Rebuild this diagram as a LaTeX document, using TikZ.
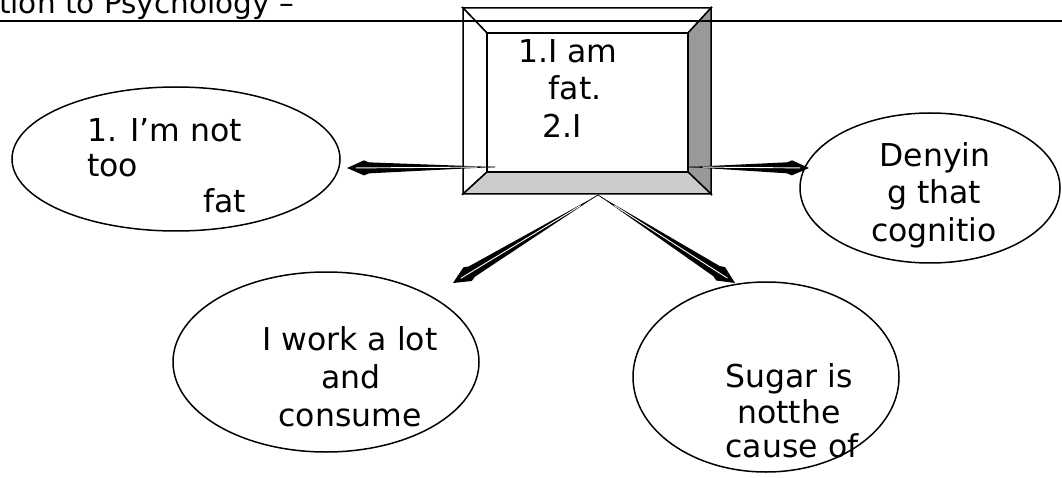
\documentclass[tikz,border=0pt]{standalone}
\usepackage{fontspec}
\setmainfont{DejaVu Sans}
\usetikzlibrary{calc,shapes.geometric}
\tikzset{
  txt/.style={inner sep=0pt, font=\fontsize{31.5}{37.5}\selectfont},
  hdrtxt/.style={inner sep=0pt, font=\fontsize{29.5}{35}\selectfont},
  ell/.style={draw, ellipse, line width=1.5pt, inner sep=0pt},
  bev/.style={draw, line width=1.5pt, line join=miter},
}
% spear-shaped connector: #1 tail, #2 tip, #3 head half-width, #4 neck half-width
\newcommand\spearline[4]{%
  \fill[black] (#1) -- ($($(#2)!22pt!(#1)$)!#4!90:(#2)$) -- ($($(#2)!17pt!(#1)$)!#3!90:(#2)$)
    -- (#2) -- ($($(#2)!17pt!(#1)$)!#3!-90:(#2)$) -- ($($(#2)!22pt!(#1)$)!#4!-90:(#2)$) -- cycle;
  \draw[black, line width=0.6pt] (#1) -- ($(#1)!8pt!(#2)$);
  \draw[white, line width=0.9pt] ($(#1)!0.12!(#2)$) -- ($(#2)!9pt!(#1)$);
}
\begin{document}
\begin{tikzpicture}[x=1pt,y=-1pt]
\useasboundingbox[fill=white] (0,0) rectangle (1062,478);
% header
\node[hdrtxt, anchor=base west] (hdr) at (-1,14) {tion to Psychology –};
% bevelled box
\fill[white] (463,8) rectangle (711,194);
\filldraw[bev, fill=white] (463,8) -- (711,8) -- (688,33) -- (487,33) -- cycle;
\filldraw[bev, fill=white] (463,8) -- (487,33) -- (487,172) -- (463,194) -- cycle;
\filldraw[bev, fill=black!40] (711,8) -- (711,194) -- (688,172) -- (688,33) -- cycle;
\filldraw[bev, fill=black!20] (463,194) -- (711,194) -- (688,172) -- (487,172) -- cycle;
\node[draw, line width=1.5pt, fill=white, minimum width=201pt, minimum height=139pt, inner sep=0pt] (box) at (587.5,102.5) {};
\draw[line width=1.6pt] (0,21) -- (1062,21);
\node[txt, anchor=base] (b1) at (568,63) {1.I am};
\node[txt, anchor=base] (b2) at (575,100) {fat.};
\node[txt, anchor=base] (b3) at (562,138) {2.I};
% ellipses
\node[ell, minimum width=328pt, minimum height=144pt] (L) at (176,159) {};
\node[ell, minimum width=260pt, minimum height=150pt] (R) at (930,188) {};
\node[ell, minimum width=306pt, minimum height=180pt] (BL) at (326,362) {};
\node[ell, minimum width=266pt, minimum height=190pt] (BR) at (766,377) {};
% texts
\node[txt, anchor=base west] (l1) at (87,142) {1. I’m not};
\node[txt, anchor=base west] (l2) at (87,177) {too};
\node[txt, anchor=base west] (l3) at (203,213) {fat};
\node[txt, anchor=base] (r1) at (935,167) {Denyin};
\node[txt, anchor=base] (r2) at (934,204) {g that};
\node[txt, anchor=base] (r3) at (934,242) {cognitio};
\node[txt, anchor=base] (bl1) at (350,350) {I work a lot};
\node[txt, anchor=base] (bl2) at (351,388) {and};
\node[txt, anchor=base] (bl3) at (350,426) {consume};
\node[txt, anchor=base] (br1) at (789,387) {Sugar is};
\node[txt, anchor=base] (br2) at (789,423) {notthe};
\node[txt, anchor=base] (br3) at (792,457) {cause of};
% connector ends
\coordinate (sL) at (495,167);
\coordinate (tL) at (347,168);
\coordinate (sR) at (688,167);
\coordinate (tR) at (809,168);
\coordinate (sB) at (598,195);
\coordinate (tBL) at (453,283);
\coordinate (tBR) at (735,283);
\spearline{sL}{tL}{7.5pt}{5.5pt}
\spearline{sR}{tR}{7.5pt}{5.5pt}
\spearline{sB}{tBL}{8pt}{6pt}
\spearline{sB}{tBR}{8pt}{6pt}
\end{tikzpicture}
\end{document}
